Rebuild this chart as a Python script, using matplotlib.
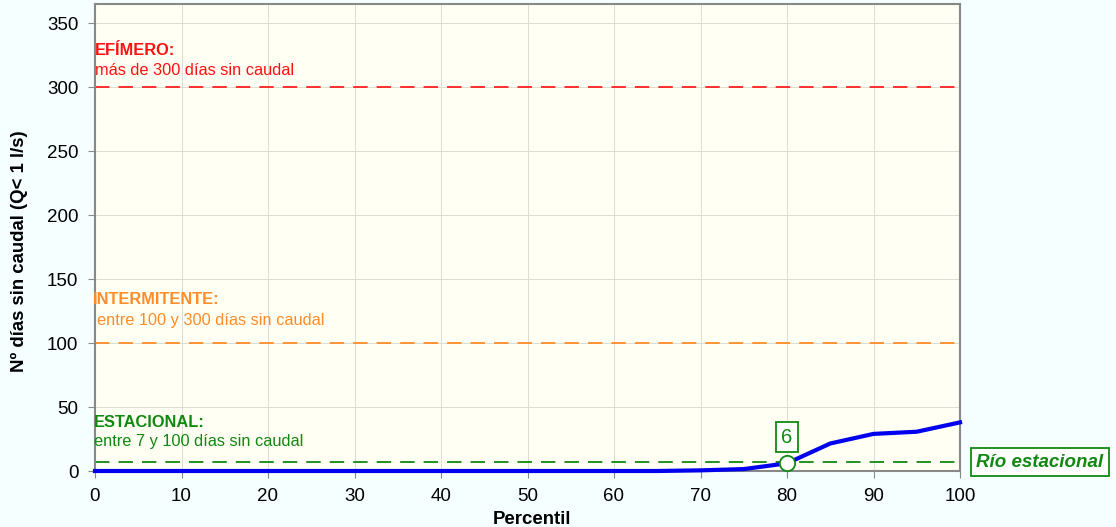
import matplotlib
matplotlib.use("Agg")
import matplotlib.pyplot as plt

# Datos
percentil = [0, 5, 10, 15, 20, 25, 30, 35, 40, 45, 50, 55, 60, 65, 70, 75, 80, 85, 90, 95, 100]
dias_sin_caudal = [0, 0, 0, 0, 0, 0, 0, 0, 0, 0, 0, 0, 0, 0, 0.5, 1.5, 6, 21.5, 29, 30.7, 38]

umbral_efimero = 300
umbral_intermitente = 100
umbral_estacional = 7
percentil_ref = 80
valor_ref = 6
clase_rio = "Río estacional"

plt.rcParams["font.family"] = ["Liberation Sans", "DejaVu Sans"]

fig = plt.figure(figsize=(11.16, 5.27), dpi=100, facecolor="#F5FFFF")
ax = fig.add_axes([95 / 1116, 1 - 471 / 527, 865 / 1116, 467 / 527])
ax.set_facecolor("#FFFFF3")

ax.set_xlim(0, 100)
ax.set_ylim(0, 365)
ax.set_xticks(range(0, 101, 10))
ax.set_yticks(range(0, 351, 50))
ax.grid(True, color="#DCDCD4", linewidth=0.7)
ax.set_axisbelow(True)
ax.tick_params(labelsize=13.5, length=5, color="#888888", pad=7)
for s in ax.spines.values():
    s.set_color("#888888")
    s.set_linewidth(1.5)

# Umbrales
ax.axhline(umbral_efimero, color="#FF2020", ls=(0, (8, 5)), lw=1.3)
ax.axhline(umbral_intermitente, color="#FF8C28", ls=(0, (8, 5)), lw=1.3)
ax.axhline(umbral_estacional, color="#118811", ls=(0, (8, 5)), lw=1.3)

fs = 11.8
ax.text(0, 329, "EFÍMERO:", color="#FF1010", fontsize=fs, fontweight="bold", va="center")
ax.text(0, 313, "más de 300 días sin caudal", color="#FF1010", fontsize=fs, va="center")
ax.text(-0.3, 134, "INTERMITENTE:", color="#FF8C28", fontsize=fs, fontweight="bold", va="center")
ax.text(0.2, 118, "entre 100 y 300 días sin caudal", color="#FF8C28", fontsize=fs, va="center")
ax.text(-0.1, 38, "ESTACIONAL:", color="#118811", fontsize=fs, fontweight="bold", va="center")
ax.text(-0.1, 23, "entre 7 y 100 días sin caudal", color="#118811", fontsize=fs, va="center")

# Curva
ax.plot(percentil, dias_sin_caudal, color="#0000EE", lw=3, clip_on=False, zorder=3)
ax.plot([percentil_ref], [valor_ref], "o", ms=11, mfc="white", mec="#118811", mew=1.3,
        clip_on=False, zorder=4)
ax.text(percentil_ref, 26.5, str(valor_ref), color="#118811", fontsize=14.5, ha="center", va="center",
        bbox=dict(boxstyle="square,pad=0.28", fc="white", ec="#118811", lw=1.3))

ax.text(1.0925, umbral_estacional, clase_rio, transform=ax.get_yaxis_transform(),
        color="#118811", fontsize=13.5, fontweight="bold", style="italic",
        ha="center", va="center",
        bbox=dict(boxstyle="square,pad=0.3", fc="white", ec="#118811", lw=1.3))

ax.set_xlabel("Percentil", fontsize=13.4, fontweight="bold", labelpad=1)
ax.set_ylabel("Nº días sin caudal (Q< 1 l/s)", fontsize=13.4, fontweight="bold")
ax.yaxis.set_label_coords(-0.077, 0.471)
ax.xaxis.set_label_coords(0.505, -0.085)

fig.savefig("out.png", dpi=100, facecolor=fig.get_facecolor())
